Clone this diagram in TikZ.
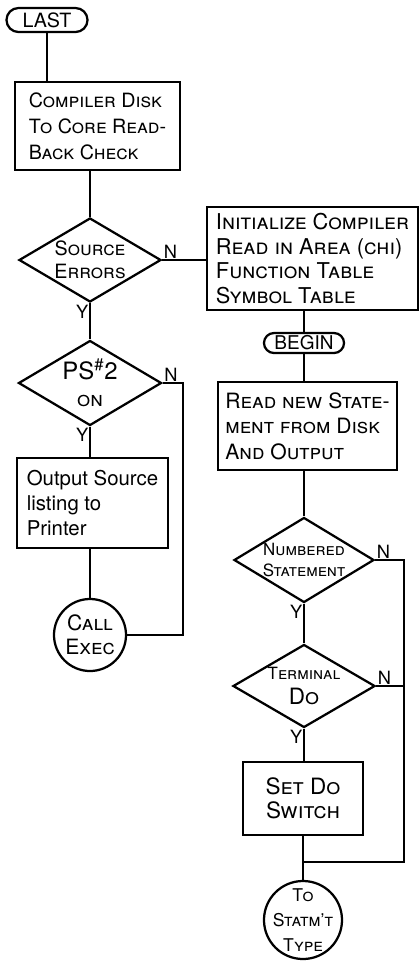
\documentclass[tikz,border=0pt]{standalone}
\usepackage{fontspec}
\setmainfont{TeX Gyre Heros}
\usetikzlibrary{shapes.geometric,positioning,calc}

\begin{document}
\begin{tikzpicture}[x=0.025cm, y=-0.025cm,
  every node/.style={font=\fontsize{14}{18.5}\selectfont\scshape, inner sep=0pt},
  flow/.style={line width=1.6pt},
  procbox/.style={draw, line width=1.6pt, rectangle, align=left},
  decbox/.style={draw, line width=1.6pt, diamond, aspect=1.7, inner sep=-4pt, align=center},
  ovalbox/.style={draw, line width=1.6pt, rectangle, align=center},
  callbox/.style={draw, line width=1.6pt, circle, align=center},
  ynlabel/.style={font=\fontsize{13}{13}\selectfont, inner sep=1pt}]
  \useasboundingbox (0,0) rectangle (419,962);
  % left column: start-up checks
  \node[ovalbox, rounded corners=0.3cm, minimum width=2.025cm, minimum height=0.6cm] (last) at (47,20) {LAST};
  \node[procbox, minimum width=4.125cm, minimum height=2.2cm] (comp) at (97.5,126) {Compiler Disk\\To Core Read-\\Back Check};
  \node[decbox, minimum width=3.55cm, minimum height=2.1cm, font=\fontsize{14}{16}\selectfont\scshape] (src) at (90,260) {Source\\Errors};
  \node[decbox, minimum width=3.575cm, minimum height=2.125cm, font=\fontsize{15}{15}\selectfont\scshape] (ps2) at (90,383)
    {{\fontsize{17}{17}\selectfont\upshape PS\textsuperscript{\#}2}\\[4pt]on};
  \node[procbox, minimum width=3.775cm, minimum height=2.25cm, font=\fontsize{14.5}{18}\selectfont\upshape] (outp) at (92.5,503)
    {Output Source\\listing to\\Printer};
  \node[callbox, minimum size=1.8cm, inner sep=-3pt, font=\fontsize{15}{17}\selectfont\scshape] (exec) at (90,635) {Call\\Exec};
  % right column: statement loop
  \node[procbox, minimum width=5.275cm, minimum height=2.575cm, font=\fontsize{15.5}{17.5}\selectfont\scshape] (init) at (312.5,258.5)
    {Initialize Compiler\\Read in Area (chi)\\Function Table\\Symbol Table};
  \node[ovalbox, rounded corners=0.25cm, minimum width=2cm, minimum height=0.5cm, font=\fontsize{13.5}{13.5}\selectfont] (begin) at (304,343) {BEGIN};
  \node[procbox, minimum width=4.475cm, minimum height=2.2cm, font=\fontsize{15}{18}\selectfont\scshape] (rd) at (307.5,426)
    {Read new State-\\ment from Disk\\And Output};
  \node[decbox, minimum width=3.5cm, minimum height=2.125cm, font=\fontsize{12}{15}\selectfont\scshape] (numb) at (304,560) {Numbered\\Statement};
  \node[decbox, minimum width=3.55cm, minimum height=2.075cm, font=\fontsize{12}{18}\selectfont\scshape] (term) at (304,686)
    {Terminal\\{\fontsize{16}{16}\selectfont Do}};
  \node[procbox, align=center, minimum width=3cm, minimum height=1.825cm, font=\fontsize{16}{17}\selectfont\scshape] (setdo) at (303,798.5) {Set Do\\Switch};
  \node[callbox, minimum size=1.95cm, inner sep=-8pt, font=\fontsize{12.5}{18}\selectfont\scshape] (stat) at (303,920) {To\\Statm't\\Type};
  % bends and joins
  \coordinate (pbend) at (183,383);
  \coordinate (nbend) at (404,560);
  \coordinate (jn) at (303,862);
  % connectors
  \draw[flow] (last) -- (last |- comp.north);
  \draw[flow] (src.north |- comp.south) -- (src.north);
  \draw[flow] (src.east) -- (src.east -| init.west);
  \draw[flow] (src.south) -- (ps2.north);
  \draw[flow] (ps2.south) -- (ps2.south |- outp.north);
  \draw[flow] (ps2.east) -- (pbend) |- (exec.east);
  \draw[flow] (exec.north |- outp.south) -- (exec.north);
  \draw[flow] (begin.north |- init.south) -- (begin.north);
  \draw[flow] (begin.south) -- (begin.south |- rd.north);
  \draw[flow] (numb.north |- rd.south) -- (numb.north);
  \draw[flow] (numb.south) -- (term.north);
  \draw[flow] (numb.east) -- (nbend) |- (jn);
  \draw[flow] (term.east) -- (term.east -| nbend);
  \draw[flow] (term.south) -- (term.south |- setdo.north);
  \draw[flow] (setdo.south) -- (stat.north);
  % Y / N marks
  \node[ynlabel, above right] (srcn) at (src.east) {N};
  \node[ynlabel, below left] (srcy) at (src.south) {Y};
  \node[ynlabel, above right] (ps2n) at (ps2.east) {N};
  \node[ynlabel, below left] (ps2y) at (ps2.south) {Y};
  \node[ynlabel, above right] (numbn) at (numb.east) {N};
  \node[ynlabel, below left] (numby) at (numb.south) {Y};
  \node[ynlabel, above right] (termn) at (term.east) {N};
  \node[ynlabel, below left] (termy) at (term.south) {Y};
\end{tikzpicture}
\end{document}
